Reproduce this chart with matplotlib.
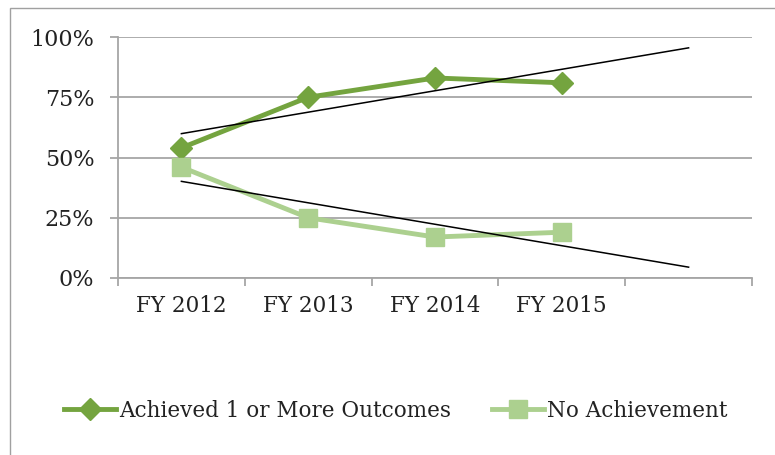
import matplotlib.pyplot as plt
import numpy as np
from matplotlib.patches import Rectangle

# Chart data
categories = ["FY 2012", "FY 2013", "FY 2014", "FY 2015", ""]
achieved = [54, 75, 83, 81]
no_achievement = [46, 25, 17, 19]
yticks = [0, 25, 50, 75, 100]

dark_green = "#74a43f"
light_green = "#acd08f"
grid_gray = "#a6a6a6"

plt.rcParams["font.family"] = ["DejaVu Serif"]
plt.rcParams["text.color"] = "#222222"
plt.rcParams["xtick.labelcolor"] = "#222222"
plt.rcParams["ytick.labelcolor"] = "#222222"

fig = plt.figure(figsize=(7.75, 4.55), dpi=100)
ax = fig.add_axes([118 / 775, 1 - 278 / 455, (752 - 118) / 775, (278 - 37) / 455])

# outer chart border (left/top visible)
fig.patches.append(Rectangle((10 / 775, -0.05), 1.0, 1 - 8 / 455 + 0.05,
                             transform=fig.transFigure, fill=False,
                             edgecolor="#a0a0a0", linewidth=1.0))

x = np.arange(len(achieved))
ax.plot(x, achieved, color=dark_green, linewidth=3.5, marker="D", markersize=11,
        label="Achieved 1 or More Outcomes", zorder=3)
ax.plot(x, no_achievement, color=light_green, linewidth=3.5, marker="s", markersize=13,
        label="No Achievement", zorder=3)

# linear trendlines, forecast forward one period
xt = np.array([0, len(categories) - 1])
for series in (achieved, no_achievement):
    m, b = np.polyfit(x, series, 1)
    ax.plot(xt, m * xt + b, color="black", linewidth=1.1, zorder=4)

ax.set_xlim(-0.5, len(categories) - 0.5)
ax.set_ylim(0, 100)
ax.set_yticks(yticks)
ax.set_yticklabels([f"{v}%" for v in yticks])
ax.set_xticks(np.arange(len(categories)))
ax.set_xticklabels(categories)
ax.set_xticks(np.arange(len(categories) + 1) - 0.5, minor=True)
ax.tick_params(axis="x", which="major", length=0, pad=12, labelsize=15.5)
ax.tick_params(axis="x", which="minor", length=6, color=grid_gray, width=1.3)
ax.tick_params(axis="y", length=6, color=grid_gray, width=1.3, labelsize=16, pad=11)

ax.grid(axis="y", color=grid_gray, linewidth=1.3)
ax.set_axisbelow(True)
for s in ("top", "right"):
    ax.spines[s].set_visible(False)
for s in ("left", "bottom"):
    ax.spines[s].set_color(grid_gray)
    ax.spines[s].set_linewidth(1.3)

h, l = ax.get_legend_handles_labels()
fig.legend(h, l, loc="center", bbox_to_anchor=(396 / 775, 1 - 411 / 455), ncol=2,
           frameon=False, fontsize=15.5, handlelength=2.4, handletextpad=0.15,
           columnspacing=1.9)

fig.savefig("out.png", dpi=100)
